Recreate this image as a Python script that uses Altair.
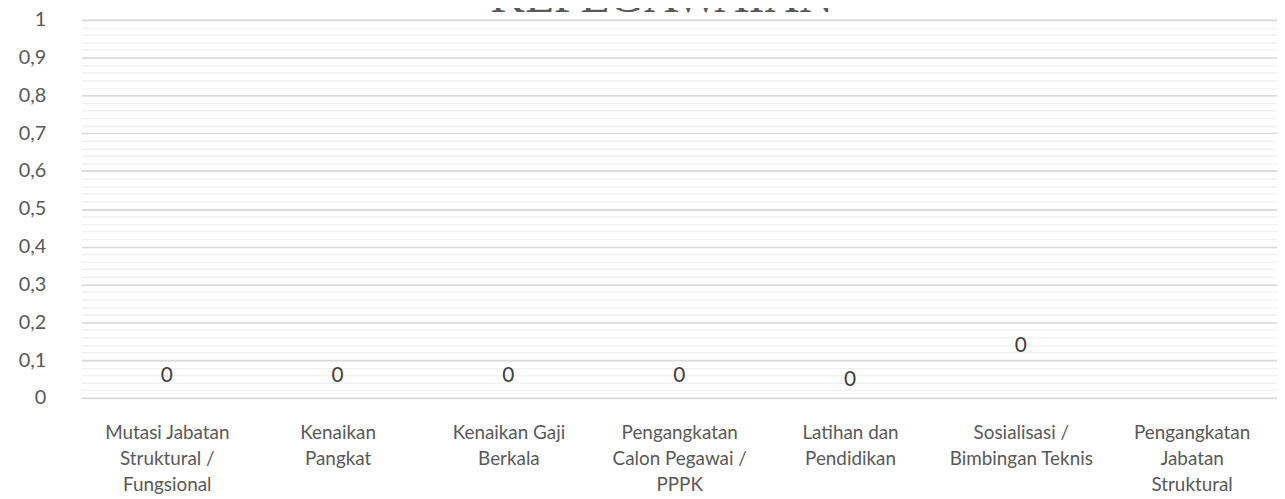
import altair as alt
import pandas as pd

categories = [
    "Mutasi Jabatan|Struktural /|Fungsional",
    "Kenaikan|Pangkat",
    "Kenaikan Gaji|Berkala",
    "Pengangkatan|Calon Pegawai /|PPPK",
    "Latihan dan|Pendidikan",
    "Sosialisasi /|Bimbingan Teknis",
    "Pengangkatan|Jabatan|Struktural",
]
values = [0, 0, 0, 0, 0, 0, None]
label_pos = [0.057, 0.057, 0.057, 0.057, 0.047, 0.138, None]
title_text = "KEPEGAWAIAN"

df = pd.DataFrame({"cat": categories, "value": values, "label_pos": label_pos})
df["label"] = df["value"].map(lambda v: "" if pd.isna(v) else f"{int(v)}")
df = df[df["label"] != ""]

minor_ticks = [round(i * 0.02, 2) for i in range(51)]
major_ticks = [round(i * 0.1, 1) for i in range(11)]

W, H = 1205, 381
FONT = "Lato"

x_enc = alt.X(
    "cat:N",
    sort=categories,
    scale=alt.Scale(domain=categories, paddingInner=0, paddingOuter=0),
    axis=alt.Axis(
        title=None,
        labelExpr="split(datum.label, '|')",
        labelAngle=0,
        labelFont=FONT,
        labelFontSize=19,
        labelColor="#595959",
        labelLineHeight=26,
        labelPadding=26,
        ticks=False,
        domain=False,
        grid=False,
        labelLimit=220,
    ),
)

base = alt.Chart(df)

minor = base.mark_text(opacity=0).encode(
    x=x_enc,
    y=alt.Y(
        "label_pos:Q",
        scale=alt.Scale(domain=[0, 1], nice=False),
        axis=alt.Axis(
            values=minor_ticks,
            grid=True,
            gridColor="#f0f0f0",
            gridWidth=1.3,
            labels=False,
            ticks=False,
            domain=False,
            title=None,
        ),
    ),
    text="label:N",
)

labels = base.mark_text(font=FONT, fontSize=21, color="#404040").encode(
    x=x_enc,
    y=alt.Y(
        "label_pos:Q",
        scale=alt.Scale(domain=[0, 1], nice=False),
        axis=alt.Axis(
            values=major_ticks,
            grid=True,
            gridColor="#d9d9d9",
            gridWidth=1.6,
            labelExpr="replace(format(datum.value, ''), '.', ',')",
            labelFont=FONT,
            labelFontSize=20,
            labelColor="#595959",
            labelPadding=36,
            ticks=False,
            domain=False,
            title=None,
            orient="left",
        ),
    ),
    text="label:N",
)

title = alt.Chart(pd.DataFrame({"t": [title_text]})).mark_text(
    font="Liberation Serif", fontSize=48, color="#595959", baseline="alphabetic"
).encode(x=alt.value(585), y=alt.value(-8), text="t:N")

chart = (
    alt.layer(minor, labels, title)
    .resolve_scale(y="independent")
    .properties(
        width=W,
        height=H,
        autosize=alt.AutoSizeParams(type="none"),
        padding={"left": 74, "top": 10, "right": 0, "bottom": 100},
    )
    .configure_view(stroke=None)
)

chart.save("out.html", embed_options={"renderer": "svg", "actions": False})
